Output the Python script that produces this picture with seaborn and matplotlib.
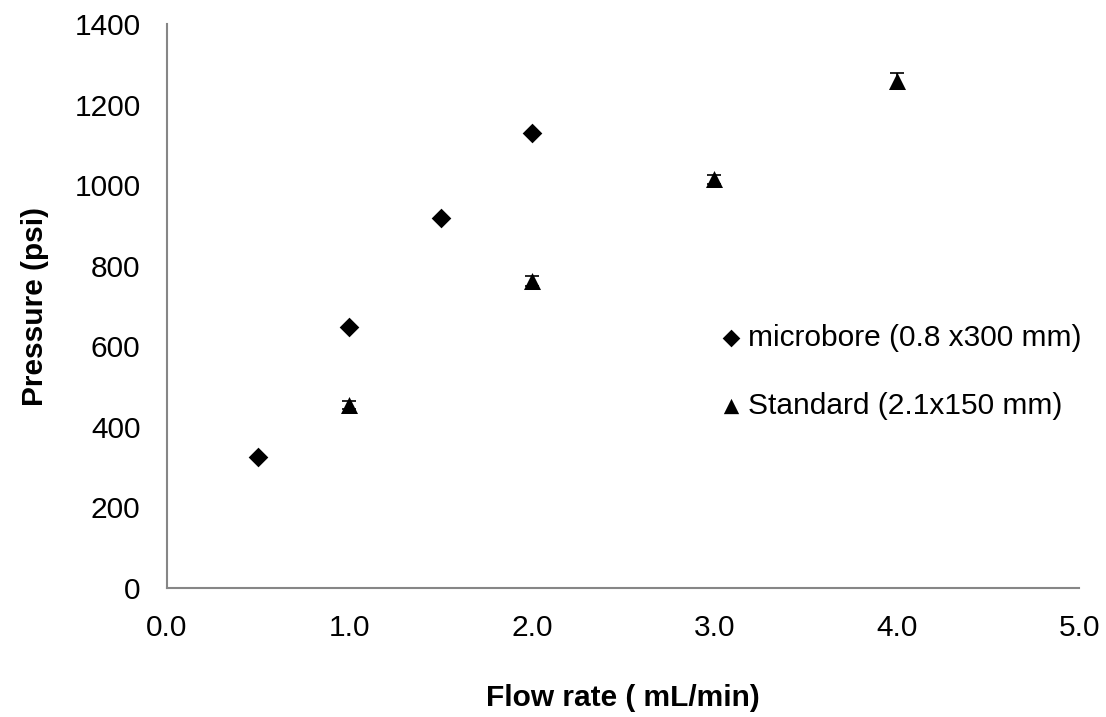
import numpy as np
import pandas as pd
import matplotlib
matplotlib.use('Agg')
import matplotlib.pyplot as plt
import seaborn as sns

# data
micro_flow = [0.5, 1.0, 1.5, 2.0]
micro_psi = [325, 648, 920, 1130]
std_flow = [1.0, 2.0, 3.0, 4.0]
std_psi = [455, 762, 1015, 1260]
std_err = [10, 12, 12, 20]
micro_label = 'microbore (0.8 x300 mm)'
std_label = 'Standard (2.1x150 mm)'

sns.set_style('white')
plt.rcParams['font.family'] = ['Liberation Sans', 'DejaVu Sans']
plt.rcParams['text.color'] = 'black'
plt.rcParams['axes.labelcolor'] = 'black'

fig = plt.figure(figsize=(11.06, 7.17), dpi=100)
ax = fig.add_axes([0.151, 0.18, 0.825, 0.786])

df_micro = pd.DataFrame({'flow': micro_flow, 'psi': micro_psi})
df_std = pd.DataFrame({'flow': std_flow, 'psi': std_psi})

ax.errorbar(std_flow, std_psi, yerr=std_err, fmt='none', ecolor='black',
            elinewidth=1.2, capsize=5, capthick=1.2, zorder=2)
sns.scatterplot(data=df_micro, x='flow', y='psi', marker='D', s=100, color='black',
                edgecolor='black', linewidth=0, ax=ax, label=micro_label, zorder=3)
sns.scatterplot(data=df_std, x='flow', y='psi', marker='^', s=150, color='black',
                edgecolor='black', linewidth=0, ax=ax, label=std_label, zorder=3)

ax.set_xlim(0, 5)
ax.set_ylim(0, 1400)
ax.set_xticks(np.arange(0, 5.01, 1.0))
ax.set_xticklabels([f'{v:.1f}' for v in np.arange(0, 5.01, 1.0)])
ax.set_yticks(range(0, 1401, 200))

for side in ['top', 'right']:
    ax.spines[side].set_visible(False)
for side in ['left', 'bottom']:
    ax.spines[side].set_color('#868686')
    ax.spines[side].set_linewidth(1.5)

ax.tick_params(axis='both', direction='out', length=5, width=1.2, color='#868686',
               labelsize=21.5, labelcolor='black')
ax.tick_params(axis='y', pad=14)
ax.tick_params(axis='x', pad=14)

ax.set_xlabel('Flow rate ( mL/min)', fontsize=21.5, fontweight='bold', labelpad=30)
ax.set_ylabel('Pressure (psi)', fontsize=21.5, fontweight='bold', labelpad=18)

leg = ax.legend(frameon=False, loc='center left', bbox_to_anchor=(0.581, 0.383),
                fontsize=21.5, handlelength=0.5, handletextpad=0.3,
                labelspacing=1.35, markerscale=0.9)

fig.savefig('out.png', dpi=100)
